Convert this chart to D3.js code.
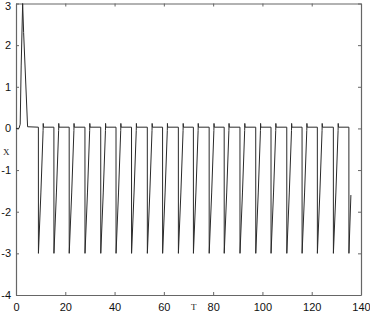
<!DOCTYPE html>
<html lang="en">
<head>
  <meta charset="UTF-8">
  <script src="https://cdn.jsdelivr.net/npm/d3@7"></script>
  <title>X over T</title>
  <style>
    body { margin: 0; background: #fff; }
    .tick text { font-family: "Liberation Sans", Arial, sans-serif; font-size: 11px; fill: #111; }
  </style>
</head>
<body>
  <svg width="370" height="312" id="chart"></svg>
  <script>

  // data
  let xTicks = [0, 20, 40, 60, 80, 100, 120, 140];
  let yTicks = [-4, -3, -2, -1, 0, 1, 2, 3];

  // start: flat, spike to 3, decay to the plateau
  let startT = [0, 1.2, 1.7, 2.1, 2.7, 3.1, 4.7];
  let startX = [0, 0, 0.1, 1.5, 3.0, 2.3, 0.04];

  // times where x drops to the trough (one per cycle)
  let dropT = [9.1, 15.4, 21.6, 28.0, 34.4, 40.6, 46.9, 53.3, 59.5, 65.9, 72.0,
               78.4, 84.5, 90.9, 97.3, 103.5, 109.9, 116.1, 122.3, 128.8, 135.1];
  let troughX = -3.0;   // bottom of every drop
  let plateauX = 0.03;  // flat level between drops
  let overshootX = 0.12; // small hook when the ramp reaches the top
  let endT = 135.9, endX = -1.6; // the record stops on the last ramp

  let svg = d3.select("#chart");
  let margin = {left: 16, right: 9, top: 3.5, bottom: 17};
  let W = 370, H = 312;

  let scaleX = d3.scaleLinear().domain([0, 140]).range([margin.left, W - margin.right]);
  let scaleY = d3.scaleLinear().domain([-4, 3]).range([H - margin.bottom, margin.top]);

  // build the series
  let series = startT.map((t, i) => [t, startX[i]]);
  dropT.forEach((td, i) => {
    series.push([td - 0.02, plateauX]);
    series.push([td, troughX]);
    if (i === dropT.length - 1) {
      series.push([endT, endX]);
    } else {
      series.push([td + 1.0, -1.55]);
      series.push([td + 1.9, -0.05]);
      series.push([td + 1.95, overshootX]);
      series.push([td + 2.05, plateauX]);
    }
  });

  /* AXES (box with inward ticks) */
  let axisColor = "#666";
  let fmt = d => String(d); // plain hyphen for negatives
  let gBottom = svg.append("g").attr("transform", `translate(0,${scaleY(-4)})`)
    .call(d3.axisBottom(scaleX).tickValues(xTicks).tickFormat(fmt).tickSizeInner(-3).tickSizeOuter(0).tickPadding(8));
  let gLeft = svg.append("g").attr("transform", `translate(${scaleX(0)},0)`)
    .call(d3.axisLeft(scaleY).tickValues(yTicks).tickFormat(fmt).tickSizeInner(-3).tickSizeOuter(0).tickPadding(5));
  let gTop = svg.append("g").attr("transform", `translate(0,${scaleY(3)})`)
    .call(d3.axisTop(scaleX).tickValues(xTicks).tickSizeInner(-3).tickSizeOuter(0).tickFormat(""));
  let gRight = svg.append("g").attr("transform", `translate(${scaleX(140)},0)`)
    .call(d3.axisRight(scaleY).tickValues(yTicks).tickSizeInner(-3).tickSizeOuter(0).tickFormat(""));

  [gBottom, gLeft, gTop, gRight].forEach(g => {
    g.select(".domain").attr("stroke", axisColor).attr("stroke-width", 1.2);
    g.selectAll(".tick line").attr("stroke", axisColor);
  });

  // top label sits right at the edge, nudge it down a little
  gLeft.selectAll(".tick text").filter(d => d === 3).attr("dy", "0.5em");

  /* LINE */
  let line = d3.line().x(d => scaleX(d[0])).y(d => scaleY(d[1]));
  svg.append("path")
    .datum(series)
    .attr("d", line)
    .attr("fill", "none")
    .attr("stroke", "#2a2a2a")
    .attr("stroke-width", 1);

  /* LABELS */
  svg.append("text").text("X")
    .attr("x", 3).attr("y", 155)
    .style("font-family", "Liberation Serif, serif").style("font-size", "9px").style("fill", "#222");
  svg.append("text").text("T")
    .attr("x", 191).attr("y", 310)
    .style("font-family", "Liberation Serif, serif").style("font-size", "9px").style("fill", "#222");

  </script>
</body>
</html>
